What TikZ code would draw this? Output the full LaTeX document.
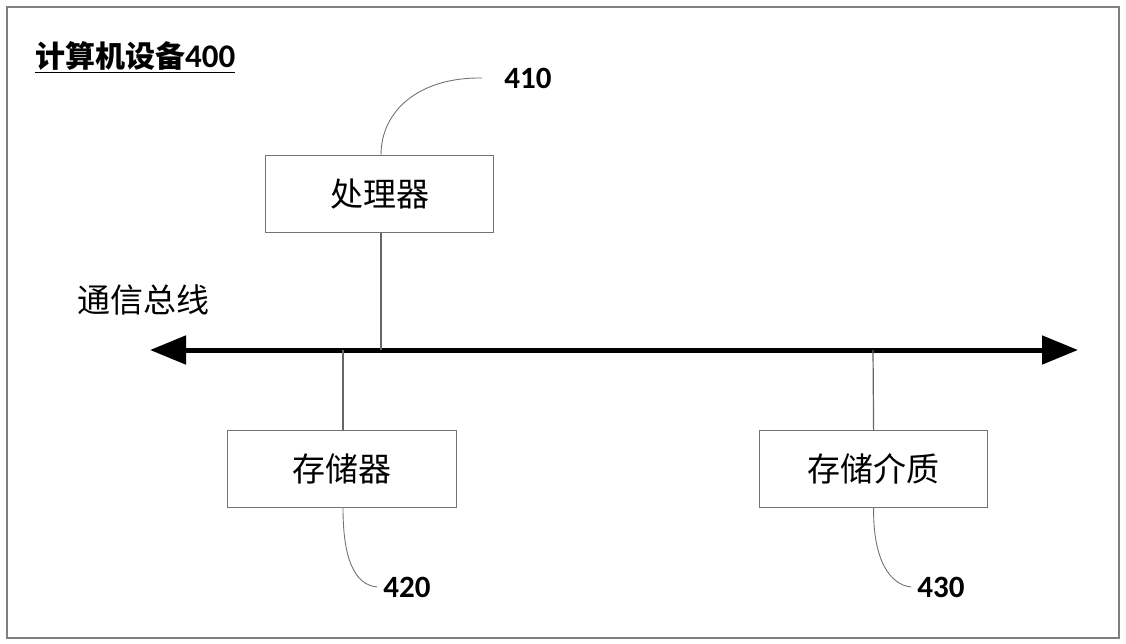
\documentclass[tikz,border=0pt]{standalone}
\usepackage{fontspec}
\newfontfamily\cjk{Noto Sans CJK SC}
\newfontfamily\numf{Carlito}
\usetikzlibrary{arrows.meta}
\begin{document}
\begin{tikzpicture}[x=1pt,y=-1pt,
  box/.style={draw=black!55,line width=1.2pt,minimum width=228pt,minimum height=77pt,font=\cjk\fontsize{33}{36}\selectfont,anchor=north west,inner sep=0pt},
  lead/.style={draw=black!55,line width=0.9pt},
  num/.style={font=\numf\bfseries\fontsize{31}{32}\selectfont,inner sep=0pt},
  link/.style={draw=black!60,line width=1.2pt}]
\useasboundingbox (0,0) rectangle (1126,644);
\draw[draw=black!50,line width=1.5pt] (7,7) rectangle (1119,638);
\node[anchor=base west,inner sep=0pt] (title) at (35,68) {\underline{\cjk\bfseries\fontsize{30}{32}\selectfont 计算机设备\numf\bfseries\fontsize{33}{34}\selectfont 400}};
\node[box] (cpu) at (265,155) {处理器};
\node[box,minimum width=229pt] (mem) at (227,430) {存储器};
\node[box] (med) at (759,430) {存储介质};
\node[font=\cjk\fontsize{33}{36}\selectfont,inner sep=0pt] (buslabel) at (143,300) {通信总线};
\coordinate (bl) at (150,350);
\coordinate (br) at (1078,350);
\draw[line width=5pt,{Triangle[length=36pt,width=28pt]}-{Triangle[length=36pt,width=28pt]}] (bl) -- (br);
\coordinate (cpuB) at (381,350);
\coordinate (memB) at (343,350);
\coordinate (medB) at (873,350);
\draw[link] (cpu.south -| cpuB) -- (cpuB);
\draw[link] (memB) -- (mem.north -| memB);
\draw[link] (medB) -- (med.north);
\node[num] (n410) at (528,78) {410};
\node[num] (n420) at (407,587) {420};
\node[num] (n430) at (941,587) {430};
\draw[lead] (cpu.north -| cpuB) .. controls (381,110) and (420,77) .. ([xshift=-22pt]n410.west);
\draw[lead] (mem.south -| memB) .. controls (343,560) and (355,585) .. ([xshift=-6pt]n420.west);
\draw[lead] (med.south) .. controls (873,560) and (890,585) .. ([xshift=-6pt]n430.west);
\end{tikzpicture}
\end{document}
